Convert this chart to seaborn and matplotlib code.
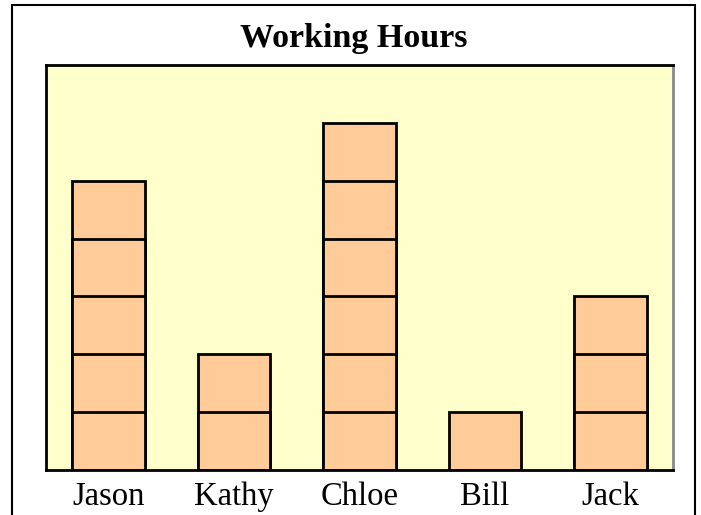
import matplotlib
matplotlib.use("Agg")
import matplotlib.pyplot as plt
import seaborn as sns
import pandas as pd
from matplotlib.patches import Rectangle

names = ["Jason", "Kathy", "Chloe", "Bill", "Jack"]
hours = [5, 2, 6, 1, 3]
title = "Working Hours"

sns.set_theme(style="white")
plt.rcParams['font.family'] = ['Liberation Serif', 'DejaVu Serif']

fig = plt.figure(figsize=(7.01, 5.15), dpi=100)
ax = fig.add_axes([46/701, 1-470/515, (673-46)/701, (470-65)/515])
ax.set_facecolor("#FFFFCC")

# draw unit blocks: stack levels from highest down so each unit boundary is outlined
max_h = max(hours)
for level in range(max_h, 0, -1):
    df = pd.DataFrame({"name": names,
                       "h": [level if v >= level else 0 for v in hours]})
    sns.barplot(data=df, x="name", y="h", order=names, color="#FFCC99",
                saturation=1, width=0.58, edgecolor="black", linewidth=2.0,
                ax=ax, errorbar=None)
# hide zero-height bars' outlines
for p in ax.patches:
    if p.get_height() == 0:
        p.set_visible(False)

ax.set_ylim(0, 7)
ax.set_xlim(-0.5, len(names) - 0.5)
ax.set_xlabel("")
ax.set_ylabel("")
ax.set_yticks([])
ax.set_xticks(range(len(names)))
ax.set_xticklabels(names, fontsize=23.5, color="black")
ax.tick_params(axis="x", length=0, pad=8)
# small boundary ticks
ax.set_xticks([i - 0.5 for i in range(len(names) + 1)], minor=True)
ax.tick_params(axis="x", which="minor", length=3, width=1.2, color="black", direction="out")

for s in ["left", "top", "bottom"]:
    ax.spines[s].set_color("black")
    ax.spines[s].set_linewidth(2.0)
ax.spines["right"].set_color("#888888")
ax.spines["right"].set_linewidth(2.0)

fig.text(353.5/701, 1-38/515, title, ha="center", va="center",
         fontsize=24.5, fontweight="bold", color="black")

# outer frame
fig.patches.append(Rectangle((12/701, -0.05), (695-12)/701, (1-5/515)+0.05,
                             transform=fig.transFigure, fill=False,
                             edgecolor="black", linewidth=1.5, zorder=10))

fig.savefig("out.png", dpi=100)
